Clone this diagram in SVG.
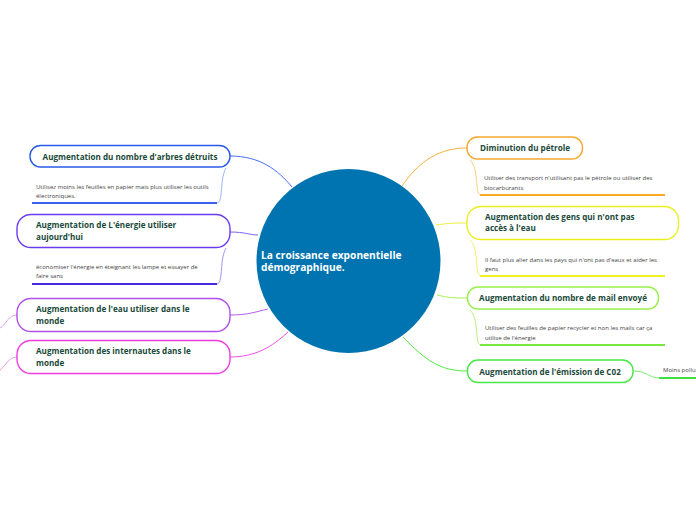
<svg xmlns="http://www.w3.org/2000/svg" width="696" height="520" viewBox="0 0 696 520">
<style>
.node{fill:#fff;stroke-width:1.4}
.t{font-family:"Open Sans","Noto Sans",sans-serif;font-weight:bold;font-size:8.1px;fill:#1a4a3a}
.m{text-anchor:middle}
.s{font-family:"Open Sans","Noto Sans",sans-serif;font-size:6px;fill:#444}
.c{fill:none;stroke-width:1}
.u{fill:none;stroke-width:1.8}
.center{font-family:"Open Sans","Noto Sans",sans-serif;font-weight:bold;font-size:10.2px;fill:#fff}
</style>
<rect width="696" height="520" fill="#fff"/>
<g id="connectors">
<path class="c" stroke="#4a6cf5" d="M230,156 C260,156 278,170 292,187"/>
<path class="c" stroke="#7a62f2" d="M230,232 C245,232 250,235 258,235"/>
<path class="c" stroke="#b45cf0" d="M230,315 C248,315 255,312 268,309"/>
<path class="c" stroke="#f050e0" d="M230,357 C255,357 272,347 288,332"/>
<path class="c" stroke="#d8a8f0" d="M17,315 C8,315 6,325 0,328"/>
<path class="c" stroke="#f0a0e8" d="M17,357 C8,357 6,366 0,370"/>
<path class="c" stroke="#f8b040" d="M402,186 C420,160 440,148 467,148"/>
<path class="c" stroke="#eef040" d="M436,225 C450,223 455,223 467,223"/>
<path class="c" stroke="#a8f050" d="M437,295 C450,298 455,298 467,298"/>
<path class="c" stroke="#50e840" d="M403,337 C425,360 440,371 467,371"/>
<path class="c" stroke="#7cf070" d="M633,371 C648,371 648,378 660,378"/>
<path class="c" stroke="#9cb8f8" d="M226,168 C222,175 222,185 221,195 C220,200 220,203 216,203"/>
<path class="c" stroke="#a494f4" d="M226,248 C222,255 222,265 221,275 C220,281 220,284 216,284"/>
<path class="c" stroke="#fcd080" d="M470,160 C476,166 476,176 477,186 C478,193 478,195 482,195"/>
<path class="c" stroke="#eef070" d="M470,240 C476,246 476,256 477,267 C478,274 478,276 482,276"/>
<path class="c" stroke="#b8f080" d="M470,310 C476,316 476,326 477,336 C478,343 478,345 482,345"/>
<path class="u" stroke="#3a62ee" d="M32,203 H217"/>
<path class="u" stroke="#4a2ae0" d="M32,284 H217"/>
<path class="u" stroke="#fca820" d="M480,195 H665"/>
<path class="u" stroke="#eef020" d="M480,276 H665"/>
<path class="u" stroke="#7ae840" d="M480,345 H665"/>
<path class="u" stroke="#40e040" d="M659,378 H696"/>
</g>
<g id="center">
<circle cx="348.5" cy="261" r="92" fill="#0074b0"/>
<text class="center" x="261" y="258.5">La croissance exponentielle</text>
<text class="center" x="261" y="271">démographique.</text>
</g>
<g id="n1">
<rect class="node" stroke="#2a5ae8" x="30" y="145.5" width="200" height="21.5" rx="10.5"/>
<text class="t m" x="130" y="159.5">Augmentation du nombre d'arbres détruits</text>
</g>
<g id="n1s">
<text class="s" x="36" y="189">Utilisez moins les feuilles en papier mais plus utiliser les outils</text>
<text class="s" x="36" y="198">électroniques.</text>
</g>
<g id="n2">
<rect class="node" stroke="#6a3cf0" x="17" y="214.5" width="213" height="33" rx="14"/>
<text class="t" x="36" y="228">Augmentation de L'énergie utiliser</text>
<text class="t" x="36" y="239.5">aujourd'hui</text>
</g>
<g id="n2s">
<text class="s" x="36" y="269">économiser l'énergie en éteignant les lampe et essayer de</text>
<text class="s" x="36" y="278">faire sans</text>
</g>
<g id="n3">
<rect class="node" stroke="#b050ea" x="17" y="298.5" width="213" height="33" rx="14"/>
<text class="t" x="36" y="312">Augmentation de l'eau utiliser  dans le</text>
<text class="t" x="36" y="323.5">monde</text>
</g>
<g id="n4">
<rect class="node" stroke="#ee3ce0" x="17" y="340.5" width="213" height="33" rx="14"/>
<text class="t" x="36" y="354">Augmentation des internautes dans le</text>
<text class="t" x="36" y="365.5">monde</text>
</g>
<g id="n5">
<rect class="node" stroke="#f8a830" x="467" y="137" width="115.5" height="22" rx="10.5"/>
<text class="t m" x="525" y="151">Diminution du pétrole</text>
</g>
<g id="n5s">
<text class="s" x="484" y="180">Utiliser des transport n'utilisant pas le pétrole ou utiliser des</text>
<text class="s" x="484" y="189.5">biocarburants</text>
</g>
<g id="n6">
<rect class="node" stroke="#eaf020" x="467" y="206.5" width="211.5" height="33" rx="14"/>
<text class="t" x="485" y="219.5">Augmentation des  gens qui n'ont pas</text>
<text class="t" x="485" y="231">accès à l'eau</text>
</g>
<g id="n6s">
<text class="s" x="485" y="262">Il faut plus aller dans les pays qui n'ont pas d'eaux et aider les</text>
<text class="s" x="485" y="271">gens</text>
</g>
<g id="n7">
<rect class="node" stroke="#98f048" x="467.5" y="287" width="191" height="22" rx="10.5"/>
<text class="t m" x="563" y="301">Augmentation du nombre de mail envoyé</text>
</g>
<g id="n7s">
<text class="s" x="485" y="330">Utiliser des feuilles de papier recycler et non les mails car ça</text>
<text class="s" x="485" y="339.5">utilise de l'énergie</text>
</g>
<g id="n8">
<rect class="node" stroke="#48e848" x="467.5" y="360" width="165.5" height="22.5" rx="10.5"/>
<text class="t m" x="550" y="374.5">Augmentation de l'émission de C02</text>
</g>
<g id="n8s">
<text class="s" x="663" y="372">Moins pollu</text>
</g>
</svg>
